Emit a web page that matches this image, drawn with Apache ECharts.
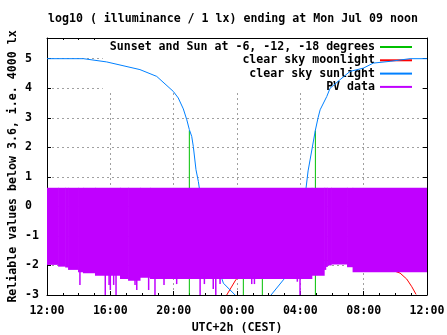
<!DOCTYPE html>
<html>
<head>
<meta charset="utf-8">
<script src="https://cdn.jsdelivr.net/npm/echarts@6/dist/echarts.min.js"></script>
<style>
html,body{margin:0;padding:0;background:#fff;}
#chart{width:447px;height:335px;}
</style>
</head>
<body>
<div id="chart"></div>
<script>
// ---- data (x = hours after Sun 12:00 CEST) ----
const xTickLabels = ['12:00','16:00','20:00','00:00','04:00','08:00','12:00'];
const yTickLabels = ['-3','-2','-1','0','1','2','3','4','5'];

// clear sky sunlight (log10 lx), evening then morning
const sunEveHours = [0, 2.3, 3.77, 5.87, 6.93, 7.98, 8.29, 8.61, 8.83, 8.99, 9.14, 9.24, 9.41, 9.56, 9.62, 10.0, 10.5, 11.14, 11.88];
const sunEveVals  = [5.0, 5.0, 4.89, 4.63, 4.40, 3.89, 3.67, 3.3, 2.93, 2.6, 2.37, 2.03, 1.24, 0.84, 0.62, -0.6, -1.6, -2.6, -3.0];
const sunMornHours = [14.15, 14.97, 15.5, 16.0, 16.36, 16.49, 16.95, 17.12, 17.25, 17.67, 17.88, 18.51, 19.14, 19.98, 20.61, 21.67, 22.93, 24];
const sunMornVals  = [-3.0, -2.46, -1.3, -0.3, 0.62, 1.2, 2.58, 3.0, 3.27, 3.72, 4.0, 4.29, 4.57, 4.68, 4.85, 4.91, 5.0, 5.0];

// clear sky moonlight
const moonHours = [11.35, 11.94, 13.0, 17.0, 21.0, 22.3, 22.72, 23.04, 23.31, 23.33];
const moonVals  = [-3.0, -2.47, -2.0, -1.8, -2.0, -2.26, -2.46, -2.72, -2.98, -3.0];

// sunset / sun at -6, -12, -18 degrees markers
const markHours = [8.99, 12.4, 13.6, 16.95];
const markTops  = [2.57, -1.0, -1.0, 2.57];

// PV data envelope (step segments)
const pvStart = [0, 0.7, 1.15, 1.33, 1.96, 2.27, 3.03, 4.61, 5.12, 5.87, 6.5, 16.72, 17.5, 17.6, 17.7, 17.94, 18.95, 19.3];
const pvEnd   = [0.7, 1.15, 1.33, 1.96, 2.27, 3.03, 4.61, 5.12, 5.87, 6.5, 16.72, 17.5, 17.6, 17.7, 17.94, 18.95, 19.3, 24];
const pvLow   = [-1.98, -2.04, -2.07, -2.15, -2.23, -2.26, -2.35, -2.46, -2.52, -2.42, -2.46, -2.35, -2.15, -2.05, -2.0, -1.97, -2.06, -2.23];
const pvHigh  = [0.63, 0.63, 0.63, 0.63, 0.63, 0.63, 0.63, 0.63, 0.63, 0.63, 0.63, 0.63, 0.63, 0.63, 0.63, 0.63, 0.63, 0.63];
// PV downward spikes
const spikeHours = [2.08, 3.68, 3.92, 4.0, 4.21, 4.36, 5.56, 5.67, 6.42, 6.82, 7.39, 8.19, 9.67, 9.94, 10.5, 10.66, 10.93, 12.93, 13.1, 15.81, 15.98];
const spikeLows  = [-2.66, -3, -2.66, -2.83, -2.66, -3, -2.66, -2.83, -2.83, -3, -2.66, -2.63, -3, -2.63, -2.8, -3, -2.63, -2.63, -2.63, -2.55, -3];

// ---- build ----
const FONT = 'DejaVu Sans Mono';
const pair = (xs, ys) => xs.map((x, i) => [x, ys[i]]);
const sunData = pair(sunEveHours, sunEveVals).concat([[12.5, '-']], pair(sunMornHours, sunMornVals));
const moonData = pair(moonHours, moonVals);
const markData = [];
markHours.forEach((h, i) => { markData.push([h, -3], [h, markTops[i]], [h, '-']); });
const bandData = pvStart.map((s, i) => [s, pvEnd[i], pvLow[i], pvHigh[i]]);
const spikeData = pair(spikeHours, spikeLows);

const PURPLE = '#c000ff', GREEN = '#00c000', RED = '#ff0000', BLUE = '#0080ff';
const textStyle = { fontFamily: FONT, fontWeight: 'bold', fontSize: 11.6, color: '#000' };
const gridLine = { show: true, lineStyle: { color: '#a0a0a0', type: [2, 3], width: 1 }, showMinLine: false, showMaxLine: false };

const baseX = {
  type: 'value', min: 0, max: 24, interval: 4,
  axisLine: { show: true, onZero: false, lineStyle: { color: '#000', width: 1 } },
  axisTick: { show: true, inside: true, length: 4, lineStyle: { color: '#000' } },
  minorTick: { show: true, splitNumber: 4, length: 2, lineStyle: { color: '#000' } },
};
const baseY = {
  type: 'value', min: -3, max: 5.7, interval: 1,
  axisLine: { show: true, onZero: false, lineStyle: { color: '#000', width: 1 } },
  axisTick: { show: true, inside: true, length: 4, lineStyle: { color: '#000' } },
};

const chart = echarts.init(document.getElementById('chart'), null, { renderer: 'canvas' });
chart.setOption({
  animation: false,
  backgroundColor: '#fff',
  title: {
    text: 'log10 ( illuminance / 1 lx) ending at Mon Jul 09 noon',
    left: 48, top: 13, padding: 0,
    textStyle: Object.assign({}, textStyle)
  },
  grid: { left: 47, right: 20, top: 38, bottom: 40, containLabel: false, outerBoundsMode: 'none' },
  legend: {
    orient: 'vertical', align: 'right', right: 27, top: 39,
    padding: [2, 7, 0, 7], itemWidth: 32, itemHeight: 12, itemGap: 1.3,
    backgroundColor: '#fff', z: 1,
    itemStyle: { opacity: 0 },
    textStyle: Object.assign({}, textStyle),
    data: ['Sunset and Sun at -6, -12, -18 degrees', 'clear sky moonlight', 'clear sky sunlight', 'PV data'],
    selectedMode: false
  },
  xAxis: [
    Object.assign({}, baseX, {
      position: 'bottom',
      axisLabel: { show: true, margin: 10, formatter: v => xTickLabels[Math.round(v / 4)], ...textStyle },
      splitLine: gridLine,
      name: 'UTC+2h (CEST)', nameLocation: 'middle', nameGap: 27, nameMoveOverlap: false,
      nameTextStyle: Object.assign({}, textStyle)
    }),
    Object.assign({}, baseX, {
      position: 'top',
      axisLabel: { show: false },
      splitLine: { show: false }
    })
  ],
  yAxis: [
    Object.assign({}, baseY, {
      position: 'left',
      axisLabel: { show: true, margin: 8, showMaxLabel: false,
        formatter: v => { const s = yTickLabels[Math.round(v) + 3]; return (s && s.charAt(0) !== '-') ? s + ' ' : s; },
        ...textStyle },
      splitLine: gridLine,
      name: 'Reliable values below 3.6, i.e. 4000 lx', nameLocation: 'middle', nameGap: 28, nameRotate: 90,
      nameMoveOverlap: false,
      nameTextStyle: Object.assign({}, textStyle)
    }),
    Object.assign({}, baseY, {
      position: 'right',
      axisLabel: { show: false },
      splitLine: { show: false }
    })
  ],
  series: [
    { name: 'Sunset and Sun at -6, -12, -18 degrees', type: 'line', data: markData, symbol: 'none',
      color: GREEN, lineStyle: { color: GREEN, width: 1 }, connectNulls: false, z: 2 },
    { name: 'clear sky moonlight', type: 'line', data: moonData, symbol: 'none',
      color: RED, lineStyle: { color: RED, width: 1 }, z: 2 },
    { name: 'clear sky sunlight', type: 'line', data: sunData, symbol: 'none',
      color: BLUE, lineStyle: { color: BLUE, width: 1 }, connectNulls: false, z: 2 },
    { name: 'PV data', type: 'line', data: [], symbol: 'none',
      color: PURPLE, lineStyle: { color: PURPLE, width: 1 }, z: 2 },
    { name: 'pvband', type: 'custom', data: bandData, clip: true, z: 3,
      encode: { x: [0, 1], y: [2, 3] },
      renderItem: (params, api) => {
        const p0 = api.coord([api.value(0), api.value(3)]);
        const p1 = api.coord([api.value(1), api.value(2)]);
        return { type: 'rect', shape: { x: p0[0], y: p0[1], width: p1[0] - p0[0] + 0.6, height: p1[1] - p0[1] },
          style: { fill: PURPLE } };
      } },
    { name: 'pvspikes', type: 'custom', data: spikeData, clip: true, z: 3,
      encode: { x: 0, y: 1 },
      renderItem: (params, api) => {
        const p0 = api.coord([api.value(0), 0]);
        const p1 = api.coord([api.value(0), api.value(1)]);
        return { type: 'rect', shape: { x: p0[0] - 0.75, y: p0[1], width: 1.5, height: p1[1] - p0[1] },
          style: { fill: PURPLE } };
      } }
  ]
});
</script>
</body>
</html>
